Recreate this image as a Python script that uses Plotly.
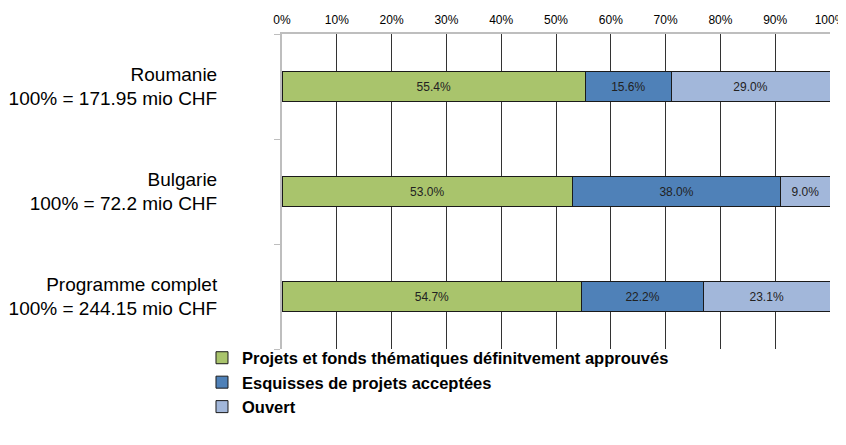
import plotly.graph_objects as go

categories = ["Roumanie", "Bulgarie", "Programme complet"]
category_labels = [
    "Roumanie<br>100% = 171.95 mio CHF",
    "Bulgarie<br>100% = 72.2 mio CHF",
    "Programme complet<br>100% = 244.15 mio CHF",
]
series_names = [
    "Projets et fonds thématiques définitvement approuvés",
    "Esquisses de projets acceptées",
    "Ouvert",
]
approved = [55.4, 53.0, 54.7]
sketches = [15.6, 38.0, 22.2]
open_share = [29.0, 9.0, 23.1]
series_values = [approved, sketches, open_share]
colors = ["#A9C46C", "#4F81B8", "#A2B7DA"]
x_ticks = list(range(0, 101, 10))

FONT = "Liberation Sans, Arial, sans-serif"

fig = go.Figure()
for name, vals, col in zip(series_names, series_values, colors):
    fig.add_trace(go.Bar(
        name=name,
        y=categories,
        x=vals,
        orientation="h",
        marker=dict(color=col, line=dict(color="#1a1a1a", width=1)),
        text=[f"{v:.1f}%" for v in vals],
        textposition="inside",
        insidetextanchor="middle",
        textangle=0,
        textfont=dict(family=FONT, size=12, color="#222222"),
        width=0.29,
        hoverinfo="skip",
    ))

# The page body adds 8px margins; the figure is sized so that the plot area
# lands at x 282..830, y 34..349 in the 846x445 window.
fig.update_layout(
    barmode="stack",
    width=838,
    height=429,
    margin=dict(l=274, r=16, t=26, b=88),
    paper_bgcolor="white",
    plot_bgcolor="white",
    font=dict(family=FONT, color="#000000"),
    uniformtext=dict(mode="show", minsize=12),
    showlegend=True,
    legend=dict(
        orientation="v",
        x=-0.146,
        xanchor="left",
        y=0.027,
        yanchor="top",
        font=dict(family=FONT, size=16.5, color="#000000", weight="bold"),
        itemclick=False,
        traceorder="normal",
        bgcolor="rgba(0,0,0,0)",
    ),
    xaxis=dict(
        side="top",
        range=[0, 100],
        tickvals=x_ticks,
        ticktext=[f"{t}%" for t in x_ticks],
        tickfont=dict(family=FONT, size=12, color="#000000"),
        ticklabelstandoff=3,
        ticklabeloverflow="allow",
        showgrid=True,
        gridcolor="#333333",
        gridwidth=1,
        zeroline=False,
        showline=True,
        linecolor="#BEBEBE",
        linewidth=2,
        ticks="",
        automargin=False,
        fixedrange=True,
    ),
    yaxis=dict(
        categoryorder="array",
        categoryarray=categories,
        autorange="reversed",
        tickvals=categories,
        ticktext=category_labels,
        tickfont=dict(family=FONT, size=19, color="#000000"),
        tickson="boundaries",
        ticks="outside",
        ticklen=6,
        tickcolor="#BEBEBE",
        tickwidth=1,
        ticklabelstandoff=59,
        showline=True,
        linecolor="#BEBEBE",
        linewidth=2,
        showgrid=False,
        zeroline=False,
        automargin=False,
        fixedrange=True,
    ),
)

fig.write_html("out.html")
